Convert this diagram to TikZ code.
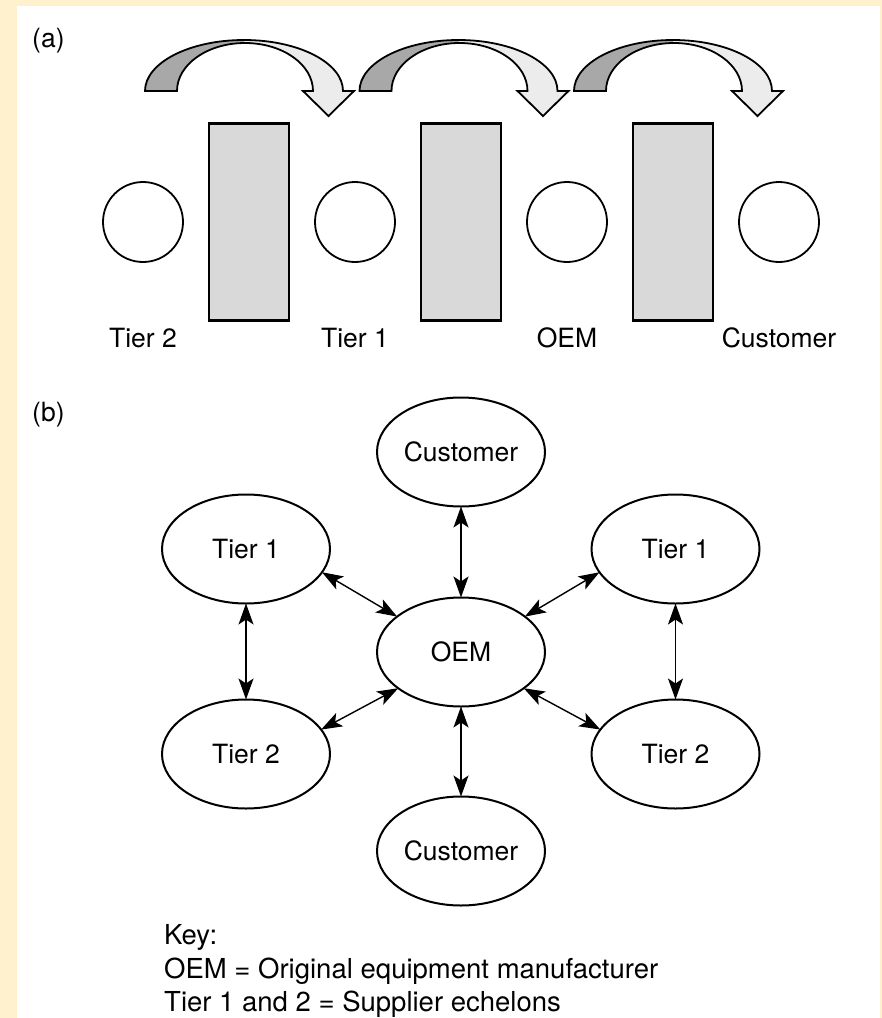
\documentclass[tikz,border=0pt]{standalone}
\usepackage{fontspec}
\setmainfont{TeX Gyre Heros}
\usepackage{xcolor}
\usepackage{tikz}
\usetikzlibrary{arrows.meta,positioning,shapes.geometric}
\definecolor{cream}{RGB}{255,241,206}
\definecolor{darkband}{RGB}{168,168,168}
\definecolor{lightband}{RGB}{236,236,236}
\definecolor{boxgray}{RGB}{217,217,217}

\begin{document}
\begin{tikzpicture}[
x=1pt, y=1pt,
node distance=26pt,
>={Stealth[length=21pt, width=15pt, inset=5pt]},
stage/.style={draw, circle, line width=1.8pt, minimum size=80pt, inner sep=0pt, outer sep=0pt},
buffer/.style={draw, fill=boxgray, line width=2.6pt, minimum width=80pt, minimum height=197pt, inner sep=0pt, outer sep=0pt},
party/.style={draw, ellipse, line width=2pt, minimum width=168pt, minimum height=109pt, inner sep=0pt, outer sep=0pt, font=\fontsize{26.5}{30}\selectfont},
lbl/.style={font=\fontsize{26.5}{30}\selectfont, inner sep=0pt, anchor=base},
keytext/.style={font=\fontsize{27.5}{32}\selectfont, inner sep=0pt, anchor=base west},
arr/.style={<->, line width=1.4pt}
]
\useasboundingbox (0,0) rectangle (882,-1018);
\fill[cream] (0,0) rectangle (882,-1018);
\fill[white] (17,-6) rectangle (880,-1018);

% (a) flow arrows
\foreach \dx in {0,214.5,429}{
\begin{scope}[xshift=\dx pt]
\fill[darkband] (145,-91) arc[start angle=180, end angle=90, x radius=99pt, y radius=51pt]
  -- (245,-43) arc[start angle=90, end angle=180, x radius=68pt, y radius=48pt] -- cycle;
\fill[lightband] (244,-40) arc[start angle=90, end angle=0, x radius=99pt, y radius=51pt]
  -- (354,-91) -- (328.5,-116) -- (303,-91) -- (313,-91)
  arc[start angle=0, end angle=90, x radius=68pt, y radius=48pt] -- cycle;
\draw[line width=1.8pt] (145,-91) arc[start angle=180, end angle=0, x radius=99pt, y radius=51pt]
  -- (354,-91) -- (328.5,-116) -- (303,-91) -- (313,-91)
  arc[start angle=0, end angle=180, x radius=68pt, y radius=48pt] -- cycle;
\end{scope}
}

\node[lbl, anchor=base west] (parta) at (32,-47) {(a)};
\node[stage] (tier2a) at (143,-222) {};
\node[buffer, right=of tier2a] (buf1) {};
\node[stage, right=of buf1] (tier1a) {};
\node[buffer, right=of tier1a] (buf2) {};
\node[stage, right=of buf2] (oema) {};
\node[buffer, right=of oema] (buf3) {};
\node[stage, right=of buf3] (custa) {};
\node[lbl] (tier2albl) at ([yshift=-85pt]tier2a.south) {Tier 2};
\node[lbl] (tier1albl) at ([yshift=-85pt]tier1a.south) {Tier 1};
\node[lbl] (oemalbl) at ([yshift=-85pt]oema.south) {OEM};
\node[lbl] (custalbl) at ([yshift=-85pt]custa.south) {Customer};

% (b) network
\node[lbl, anchor=base west] (partb) at (32,-421.5) {(b)};
\node[party] (oem) at (461,-652) {OEM};
\node[party, above=91pt of oem] (custtop) {Customer};
\node[party, below=90pt of oem] (custbot) {Customer};
\node[party] (tier1l) at (246,-549) {Tier 1};
\node[party] (tier1r) at (675.5,-549) {Tier 1};
\node[party] (tier2l) at (246,-754) {Tier 2};
\node[party] (tier2r) at (675.5,-754) {Tier 2};

\draw[arr] (custtop) -- (oem);
\draw[arr] (oem) -- (custbot);
\draw[arr] (tier1l) -- (tier2l);
\draw[arr] (tier1r) -- (tier2r);
\draw[arr] (tier1l.-17) -- (oem.151);
\draw[arr] (tier1r.-163) -- (oem.29);
\draw[arr] (tier2l.18) -- (oem.-150);
\draw[arr] (tier2r.162) -- (oem.-30);

\node[keytext] (keyhead) at (164,-944) {Key:};
\node[keytext] (keyoem) at (164,-978) {OEM = Original equipment manufacturer};
\node[keytext] (keytier) at (164,-1011) {Tier 1 and 2 = Supplier echelons};
\end{tikzpicture}
\end{document}
